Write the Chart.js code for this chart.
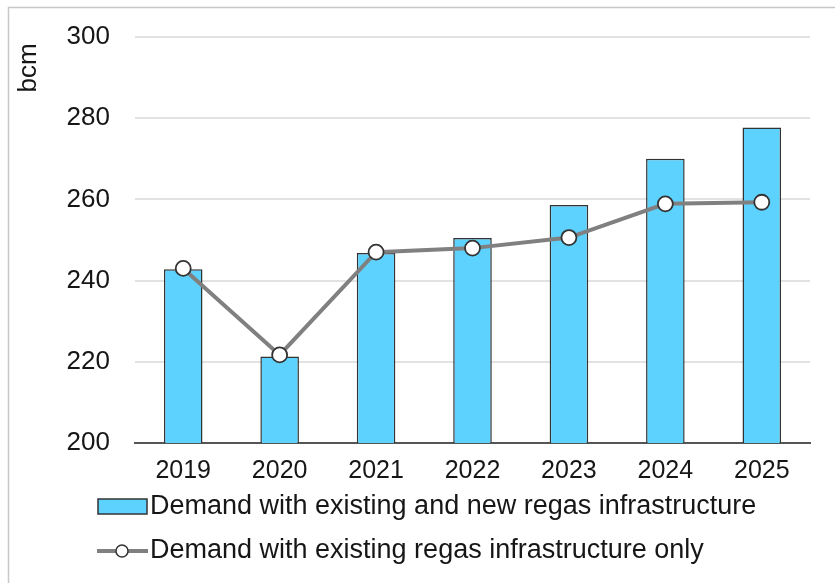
<!DOCTYPE html>
<html>
<head>
<meta charset="utf-8">
<script src="https://cdn.jsdelivr.net/npm/chart.js@4.4.1/dist/chart.umd.min.js"></script>
<style>
  html, body { margin: 0; padding: 0; background: #fff; }
  #wrap { width: 835px; height: 583px; }
</style>
</head>
<body>
<div id="wrap"><canvas id="chart" width="835" height="583"></canvas></div>
<script>
// Data (bcm)
const years = ['2019', '2020', '2021', '2022', '2023', '2024', '2025'];
const demandWithNew = [242.8, 221.3, 246.8, 250.5, 258.6, 270.0, 277.7];
const demandExisting = [243.0, 221.7, 247.0, 248.0, 250.6, 258.9, 259.3];
const yTicks = [200, 220, 240, 260, 280, 300];

const barLabel = 'Demand with existing and new regas infrastructure';
const lineLabel = 'Demand with existing regas infrastructure only';

const BAR_COLOR = '#5dd2fe';
const EDGE = '#333333';
const LINE_COLOR = '#808080';
const TEXT = '#161616';
const FONT = '"Liberation Sans", Arial, sans-serif';

// frame, axis title and legend
const extras = {
    id: 'extras',
    beforeDraw(chart) {
        const ctx = chart.ctx;
        ctx.save();
        ctx.strokeStyle = '#c8c8c8';
        ctx.lineWidth = 1.5;
        ctx.strokeRect(8.5, 7.5, 900, 900);
        ctx.restore();
    },
    afterDraw(chart) {
        const ctx = chart.ctx;
        ctx.save();
        ctx.fillStyle = TEXT;
        ctx.font = '26px ' + FONT;

        // y axis title
        ctx.save();
        ctx.translate(29, 68);
        ctx.rotate(-Math.PI / 2);
        ctx.textAlign = 'center';
        ctx.textBaseline = 'middle';
        ctx.fillText('bcm', 0, 0);
        ctx.restore();

        // legend
        ctx.textAlign = 'left';
        ctx.textBaseline = 'middle';
        ctx.font = '27px ' + FONT;

        ctx.fillStyle = BAR_COLOR;
        ctx.fillRect(98, 499, 49, 15);
        ctx.strokeStyle = EDGE;
        ctx.lineWidth = 1.5;
        ctx.strokeRect(98, 499, 49, 15);
        ctx.fillStyle = TEXT;
        ctx.fillText(barLabel, 150, 507);

        ctx.strokeStyle = LINE_COLOR;
        ctx.lineWidth = 4;
        ctx.beginPath();
        ctx.moveTo(97, 551);
        ctx.lineTo(148, 551);
        ctx.stroke();
        ctx.beginPath();
        ctx.arc(122, 551, 6, 0, Math.PI * 2);
        ctx.fillStyle = '#fff';
        ctx.fill();
        ctx.strokeStyle = EDGE;
        ctx.lineWidth = 1.5;
        ctx.stroke();
        ctx.fillStyle = TEXT;
        ctx.fillText(lineLabel, 150, 551);
        ctx.restore();
    }
};

new Chart(document.getElementById('chart'), {
    type: 'bar',
    data: {
        labels: years,
        datasets: [{
            type: 'line',
            label: lineLabel,
            data: demandExisting,
            borderColor: LINE_COLOR,
            borderWidth: 4,
            pointRadius: 7.5,
            pointBackgroundColor: '#fff',
            pointBorderColor: EDGE,
            pointBorderWidth: 1.8,
            tension: 0,
            order: 0
        }, {
            label: barLabel,
            data: demandWithNew,
            backgroundColor: BAR_COLOR,
            borderColor: EDGE,
            borderWidth: 1.5,
            barPercentage: 0.4,
            categoryPercentage: 1,
            order: 1
        }]
    },
    options: {
        responsive: false,
        animation: false,
        layout: { padding: { left: 8, right: 25, top: 37, bottom: 100 } },
        plugins: {
            legend: { display: false },
            tooltip: { enabled: false }
        },
        scales: {
            x: {
                offset: true,
                grid: { display: false },
                border: { display: true, color: '#555', width: 2 },
                ticks: { color: TEXT, font: { family: FONT, size: 25 }, padding: 5 },
                afterFit(scale) { scale.height = 40; }
            },
            y: {
                min: 200,
                max: 300,
                afterBuildTicks(scale) { scale.ticks = yTicks.map(v => ({ value: v })); },
                grid: { color: '#e2e2e2', lineWidth: 2, drawTicks: false },
                border: { display: false },
                ticks: { color: TEXT, font: { family: FONT, size: 26 }, padding: 25 },
                afterFit(scale) {
                    scale.width = 127;
                    scale.paddingTop = 0;
                    scale.paddingBottom = 0;
                }
            }
        }
    },
    plugins: [extras]
});
</script>
</body>
</html>
